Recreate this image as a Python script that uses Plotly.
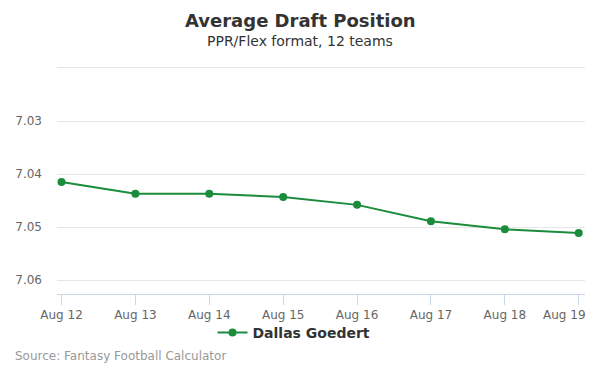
import plotly.graph_objects as go

dates = ["Aug 12", "Aug 13", "Aug 14", "Aug 15", "Aug 16", "Aug 17", "Aug 18", "Aug 19"]
adp = [7.0415, 7.0437, 7.0437, 7.0443, 7.0458, 7.0489, 7.0504, 7.0511]
y_ticks = [7.02, 7.03, 7.04, 7.05, 7.06]
y_tick_text = ["", "7.03", "7.04", "7.05", "7.06"]
series_name = "Dallas Goedert"

FONT = "DejaVu Sans, Verdana, sans-serif"
GREEN = "#1a8c3b"

x = list(range(len(dates)))
# last label is drawn separately, kept inside the frame like the original
tick_text = dates[:-1] + [""]

L, R, T, B = 57, 15, 64, 81
W, H = 600, 375
plot_h = H - T - B
plot_w = W - L - R


def py(pix):
    return (H - B - pix) / plot_h


def px(pix):
    return (pix - L) / plot_w


fig = go.Figure()
fig.add_trace(go.Scatter(
    x=x, y=adp, mode="lines+markers", name=series_name,
    line=dict(color=GREEN, width=2),
    marker=dict(color=GREEN, size=8),
))

fig.update_layout(
    width=W, height=H,
    margin=dict(l=L, r=R, t=T, b=B, autoexpand=False),
    paper_bgcolor="white", plot_bgcolor="white",
    font=dict(family=FONT, color="#666666", size=12),
    showlegend=True,
    legend=dict(
        orientation="h", x=px(294), xanchor="center", y=py(333), yanchor="middle",
        bgcolor="rgba(0,0,0,0)",
        font=dict(family=FONT, size=14, color="#333333", weight="bold"),
        itemwidth=30,
    ),
    xaxis=dict(
        range=[-0.061, 7.085],
        tickvals=x, ticktext=tick_text,
        showgrid=False, zeroline=False,
        showline=True, linecolor="#ccd6eb", linewidth=1,
        ticks="outside", ticklen=10, tickcolor="#ccd6eb",
        tickfont=dict(size=12, color="#666666"),
        automargin=False,
        fixedrange=True,
    ),
    yaxis=dict(
        range=[7.0626, 7.01925],
        tickvals=y_ticks, ticktext=y_tick_text,
        showgrid=True, gridcolor="#e6e6e6", gridwidth=1,
        zeroline=False, showline=False,
        ticks="", ticklabelstandoff=14,
        tickfont=dict(size=12, color="#666666"),
        automargin=False,
        fixedrange=True,
    ),
)

fig.add_annotation(text=dates[-1], x=x[-1], xref="x", xanchor="right", xshift=9,
                   y=py(315), yref="paper", yanchor="middle", showarrow=False,
                   font=dict(size=12, color="#666666", family=FONT))
fig.add_annotation(text="<b>Average Draft Position</b>", x=px(300), xref="paper", y=py(20), yref="paper",
                   showarrow=False, font=dict(size=18, color="#333333", family=FONT),
                   xanchor="center", yanchor="middle")
fig.add_annotation(text="PPR/Flex format, 12 teams", x=px(300), xref="paper", y=py(41), yref="paper",
                   showarrow=False, font=dict(size=14, color="#333333", family=FONT),
                   xanchor="center", yanchor="middle")
fig.add_annotation(text="Source: Fantasy Football Calculator", x=px(13), xref="paper",
                   y=py(356), yref="paper", showarrow=False,
                   font=dict(size=12, color="#999999", family=FONT),
                   xanchor="left", yanchor="middle")

fig.write_html("out.html", config={"displayModeBar": False},
               post_script="document.body.style.margin='0';")
